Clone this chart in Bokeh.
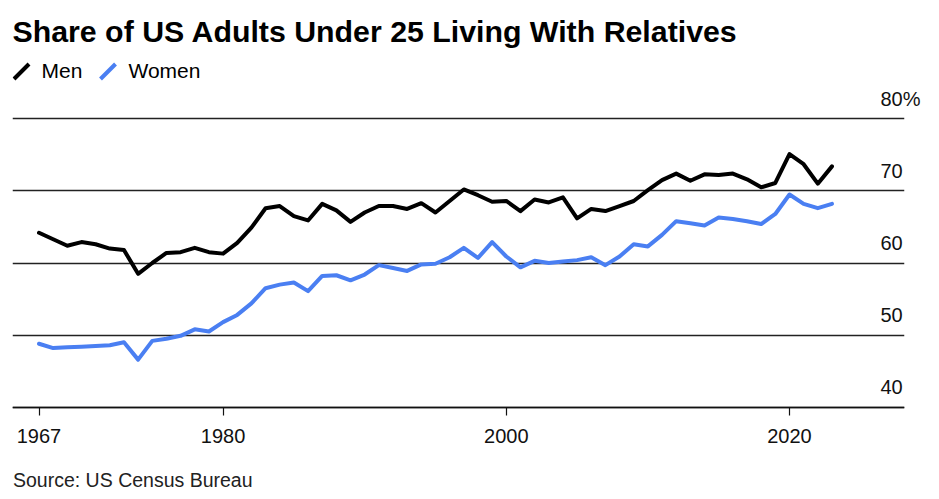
from bokeh.plotting import figure
from bokeh.models import Label, Arrow, FixedTicker, LinearAxis, Range1d
from bokeh.embed import file_html
from bokeh.resources import INLINE

# ---- data ----
years = list(range(1967, 2024))
men = [64.2, 63.3, 62.4, 62.9, 62.6, 62.0, 61.8, 58.5, 60.0, 61.4,
       61.5, 62.1, 61.5, 61.3, 62.8, 64.9, 67.6, 67.9, 66.5, 65.9,
       68.2, 67.3, 65.7, 67.0, 67.9, 67.9, 67.5, 68.3, 67.0, 68.6,
       70.2, 69.4, 68.5, 68.6, 67.2, 68.8, 68.4, 69.1, 66.2, 67.5,
       67.2, 67.9, 68.6, 70.1, 71.5, 72.4, 71.4, 72.3, 72.2, 72.4,
       71.6, 70.5, 71.1, 75.1, 73.7, 71.0, 73.4]
women = [48.8, 48.2, 48.3, 48.4, 48.5, 48.6, 49.0, 46.6, 49.2, 49.5,
         49.9, 50.8, 50.5, 51.8, 52.8, 54.4, 56.5, 57.0, 57.3, 56.1,
         58.2, 58.3, 57.6, 58.4, 59.7, 59.3, 58.9, 59.8, 59.9, 60.8,
         62.1, 60.7, 62.9, 60.9, 59.4, 60.3, 60.0, 60.2, 60.4, 60.8,
         59.7, 60.9, 62.6, 62.3, 63.9, 65.8, 65.5, 65.2, 66.3, 66.1,
         65.8, 65.4, 66.8, 69.5, 68.2, 67.6, 68.2]
x_ticks = [1967, 1980, 2000, 2020]
y_ticks = [40, 50, 60, 70, 80]
y_tick_labels = ["40", "50", "60", "70", "80%"]
series_names = ["Men", "Women"]
series_colors = ["#000000", "#4a7ff2"]

title_text = "Share of US Adults Under 25 Living With Relatives"
source_text = "Source: US Census Bureau"

# ---- layout geometry (page px) ----
W, H = 939, 499
FL, FR = 12, 904          # frame left / right
PPX = 14.16               # px per year
PPY = 7.21                # px per percentage point
BASE_Y = 406.7            # page y of the 40 line
X0 = 1967 - (38.5 - FL) / PPX
X1 = X0 + (FR - FL) / PPX
Y0 = 40 - (H - BASE_Y) / PPY
Y1 = 40 + BASE_Y / PPY
LAB_SHIFT = 20.0 / PPY    # right labels sit above their gridlines


def DX(sx):
    return X0 + (sx - FL) / PPX


def DY(sy):
    return Y0 + (H - sy) / PPY


FONT = "Liberation Sans"

p = figure(width=W, height=H, x_range=(X0, X1), y_range=(Y0, Y1),
           output_backend="svg", toolbar_location=None,
           x_axis_location=None, y_axis_location=None,
           min_border_left=FL, min_border_right=W - FR,
           min_border_top=0, min_border_bottom=0)
p.outline_line_color = None
p.background_fill_color = "white"
p.border_fill_color = "white"

p.xgrid.visible = False
p.ygrid.ticker = FixedTicker(ticks=y_ticks)
p.ygrid.grid_line_color = "#222222"
p.ygrid.grid_line_width = 1.3

# bottom axis pinned at the 40 line
ax = LinearAxis(fixed_location=40, ticker=FixedTicker(ticks=x_ticks))
ax.axis_line_color = "#111111"
ax.axis_line_width = 1.6
ax.major_tick_out = 8
ax.major_tick_in = 0
ax.major_tick_line_color = "#111111"
ax.major_tick_line_width = 1.2
ax.minor_tick_line_color = None
ax.major_label_text_font = FONT
ax.major_label_text_font_size = "20px"
ax.major_label_text_color = "#111111"
ax.major_label_standoff = 14
p.add_layout(ax, "below")

# right value labels, above gridlines, in the right panel
p.extra_y_ranges = {"lab": Range1d(Y0 - LAB_SHIFT, Y1 - LAB_SHIFT)}
ay = LinearAxis(y_range_name="lab", ticker=FixedTicker(ticks=y_ticks))
ay.major_label_overrides = {v: t for v, t in zip(y_ticks, y_tick_labels)}
ay.axis_line_color = None
ay.major_tick_line_color = None
ay.minor_tick_line_color = None
ay.major_tick_out = 0
ay.major_tick_in = 0
ay.major_label_standoff = -24
ay.major_label_text_font = FONT
ay.major_label_text_font_size = "20px"
ay.major_label_text_color = "#111111"
p.add_layout(ay, "right")

for vals, color in zip([men, women], series_colors):
    p.line(years, vals, line_color=color, line_width=4,
           line_join="round", line_cap="round")

# title
p.add_layout(Label(x=DX(12), y=DY(30.7), text=title_text,
                   text_align="left", text_baseline="alphabetic",
                   text_font=FONT, text_font_size="30.3px",
                   text_font_style="bold", text_color="#000000"))

# legend (slash icons + labels)
legend_icon_x = [13.5, 100.0]
legend_text_x = [41.0, 128.0]
for name, color, ix, tx in zip(series_names, series_colors,
                               legend_icon_x, legend_text_x):
    p.add_layout(Arrow(x_start=DX(ix), y_start=DY(78.5),
                       x_end=DX(ix + 15), y_end=DY(63.5),
                       start=None, end=None,
                       line_color=color, line_width=4))
    p.add_layout(Label(x=DX(tx), y=DY(70), text=name,
                       text_align="left", text_baseline="alphabetic",
                       text_font=FONT, text_font_size="21px",
                       text_color="#000000"))

# source
p.add_layout(Label(x=DX(12.5), y=DY(479.3), text=source_text,
                   text_align="left", text_baseline="alphabetic",
                   text_font=FONT, text_font_size="19.5px",
                   text_color="#222222"))

open("out.html", "w").write(file_html(p, INLINE))
